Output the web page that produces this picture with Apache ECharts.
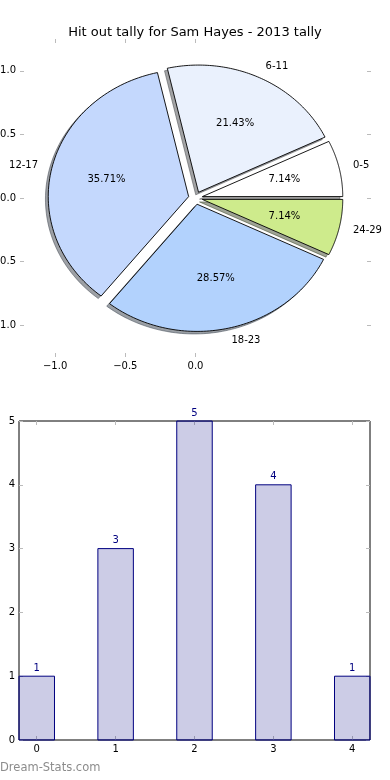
<!DOCTYPE html>
<html>
<head>
<meta charset="utf-8">
<script src="https://cdn.jsdelivr.net/npm/echarts@6/dist/echarts.min.js"></script>
<style>
html,body{margin:0;padding:0;background:#fff;}
#chart{width:390px;height:780px;}
</style>
</head>
<body>
<div id="chart"></div>
<script>
// ---- data ----
const chartTitle = 'Hit out tally for Sam Hayes - 2013 tally';
const categories = ['0-5', '6-11', '12-17', '18-23', '24-29'];
const tally = [1, 3, 5, 4, 1];
const sliceColors = ['#ffffff', '#eaf1fd', '#c4d8fd', '#b2d2fd', '#ceeb8c'];
const pieXTicks = [-1, -0.5, 0];
const pieYTicks = [-1, -0.5, 0, 0.5, 1];
const barX = [0, 1, 2, 3, 4];
const barValues = [1, 3, 5, 4, 1];
const barYTicks = [0, 1, 2, 3, 4, 5];

// ---- settings ----
const FONT = '"DejaVu Sans", "Liberation Sans", sans-serif';
const EXPLODE = 0.05;
const SHADOW_OFF = -0.02;
const BAR_W = 0.45;
const TICK_COLOR = '#bbbbbb';

const total = tally.reduce((a, b) => a + b, 0);
const cum = [];
tally.reduce((acc, v, i) => { cum[i] = acc; return acc + v; }, 0);

function fmtPie(v) {
  return (v < 0 ? '\u2212' : '') + Math.abs(v).toFixed(1);
}
function shadowColor(hex) {
  const r = parseInt(hex.slice(1, 3), 16), g = parseInt(hex.slice(3, 5), 16), b = parseInt(hex.slice(5, 7), 16);
  return 'rgba(' + Math.round(r * 0.3) + ',' + Math.round(g * 0.3) + ',' + Math.round(b * 0.3) + ',0.5)';
}

function wedgePoints(api, i, dx, dy) {
  const t1 = 2 * Math.PI * cum[i] / total;
  const t2 = 2 * Math.PI * (cum[i] + tally[i]) / total;
  const mid = (t1 + t2) / 2;
  const cx = EXPLODE * Math.cos(mid) + dx, cy = EXPLODE * Math.sin(mid) + dy;
  const pts = [api.coord([cx, cy])];
  const n = 80;
  for (let k = 0; k <= n; k++) {
    const t = t1 + (t2 - t1) * k / n;
    pts.push(api.coord([cx + Math.cos(t), cy + Math.sin(t)]));
  }
  return { pts, mid, cx, cy };
}

function axisPair(gridIndex, pos, min, max, ticks, labels, fmt) {
  return {
    type: 'value', gridIndex, position: pos, min, max,
    axisLine: { show: false, onZero: false },
    splitLine: { show: false },
    axisTick: { show: true, inside: true, length: 4, customValues: ticks, lineStyle: { color: TICK_COLOR, width: 1 } },
    axisLabel: labels ? { show: true, customValues: ticks, formatter: fmt, fontFamily: FONT, fontSize: 10, color: '#000', margin: 4, hideOverlap: false } : { show: false }
  };
}

const chart = echarts.init(document.getElementById('chart'), null, { renderer: 'canvas' });
const option = {
  animation: false,
  backgroundColor: '#ffffff',
  title: {
    text: chartTitle, left: 'center', top: 21,
    textStyle: { fontFamily: FONT, fontSize: 13, fontWeight: 'normal', color: '#000' }
  },
  grid: [
    { left: 20, right: 19, top: 39, bottom: 423, show: false, containLabel: false, outerBoundsMode: 'none' },
    { left: 19, right: 20, top: 421, bottom: 40, show: true, borderColor: '#000', borderWidth: 1, backgroundColor: 'transparent', containLabel: false, outerBoundsMode: 'none' }
  ],
  xAxis: [
    axisPair(0, 'bottom', -1.25, 1.25, pieXTicks, true, fmtPie),
    axisPair(0, 'top', -1.25, 1.25, pieXTicks, false),
    axisPair(1, 'bottom', -BAR_W / 2, barX[barX.length - 1] + BAR_W / 2, barX, true, v => String(v)),
    axisPair(1, 'top', -BAR_W / 2, barX[barX.length - 1] + BAR_W / 2, barX, false)
  ],
  yAxis: [
    axisPair(0, 'left', -1.25, 1.25, pieYTicks, true, fmtPie),
    axisPair(0, 'right', -1.25, 1.25, pieYTicks, false),
    axisPair(1, 'left', 0, 5, barYTicks, true, v => String(v)),
    axisPair(1, 'right', 0, 5, barYTicks, false)
  ],
  series: [
    {
      type: 'custom', xAxisIndex: 0, yAxisIndex: 0, z: 1,
      data: tally.map(v => [0, 0, v]),
      encode: { x: 0, y: 1 },
      renderItem: function (params, api) {
        const i = params.dataIndex;
        const w = wedgePoints(api, i, SHADOW_OFF, SHADOW_OFF);
        const c = shadowColor(sliceColors[i]);
        return { type: 'polygon', shape: { points: w.pts }, style: { fill: c, stroke: c, lineWidth: 1 } };
      }
    },
    {
      type: 'custom', xAxisIndex: 0, yAxisIndex: 0, z: 2,
      data: tally.map(v => [0, 0, v]),
      encode: { x: 0, y: 1 },
      renderItem: function (params, api) {
        const i = params.dataIndex;
        const w = wedgePoints(api, i, 0, 0);
        const lx = w.cx + 1.1 * Math.cos(w.mid), ly = w.cy + 1.1 * Math.sin(w.mid);
        const lp = api.coord([lx, ly]);
        const px = api.coord([w.cx + 0.6 * Math.cos(w.mid), w.cy + 0.6 * Math.sin(w.mid)]);
        const pct = (100 * tally[i] / total).toFixed(2) + '%';
        return {
          type: 'group',
          children: [
            { type: 'polygon', shape: { points: w.pts }, style: { fill: sliceColors[i], stroke: '#000', lineWidth: 0.9, lineJoin: 'round' } },
            { type: 'text', z2: 10, style: { x: lp[0], y: lp[1], text: categories[i], align: lx > 0 ? 'left' : 'right', verticalAlign: 'middle', font: '10px ' + FONT, fill: '#000' } },
            { type: 'text', z2: 10, style: { x: px[0], y: px[1], text: pct, align: 'center', verticalAlign: 'middle', font: '10px ' + FONT, fill: '#000' } }
          ]
        };
      }
    },
    {
      type: 'custom', xAxisIndex: 2, yAxisIndex: 2, z: 2,
      data: barValues.map((v, i) => [barX[i], v]),
      encode: { x: 0, y: 1 },
      renderItem: function (params, api) {
        const x = api.value(0), v = api.value(1);
        const p0 = api.coord([x - BAR_W / 2, v]);
        const p1 = api.coord([x + BAR_W / 2, 0]);
        const top = api.coord([x, v]);
        return {
          type: 'group',
          children: [
            { type: 'rect', shape: { x: p0[0], y: p0[1], width: p1[0] - p0[0], height: p1[1] - p0[1] }, style: { fill: 'rgba(0,0,128,0.2)', stroke: '#000080', lineWidth: 1 } },
            { type: 'text', style: { x: top[0], y: top[1] - 3, text: String(v), align: 'center', verticalAlign: 'bottom', font: '10px ' + FONT, fill: '#000080' } }
          ]
        };
      }
    }
  ],
  graphic: [
    { type: 'text', left: 0, top: 762, style: { text: 'Dream-Stats.com', font: '11.5px ' + FONT, fill: '#8c8c8c' } }
  ]
};
chart.setOption(option);
</script>
</body>
</html>
